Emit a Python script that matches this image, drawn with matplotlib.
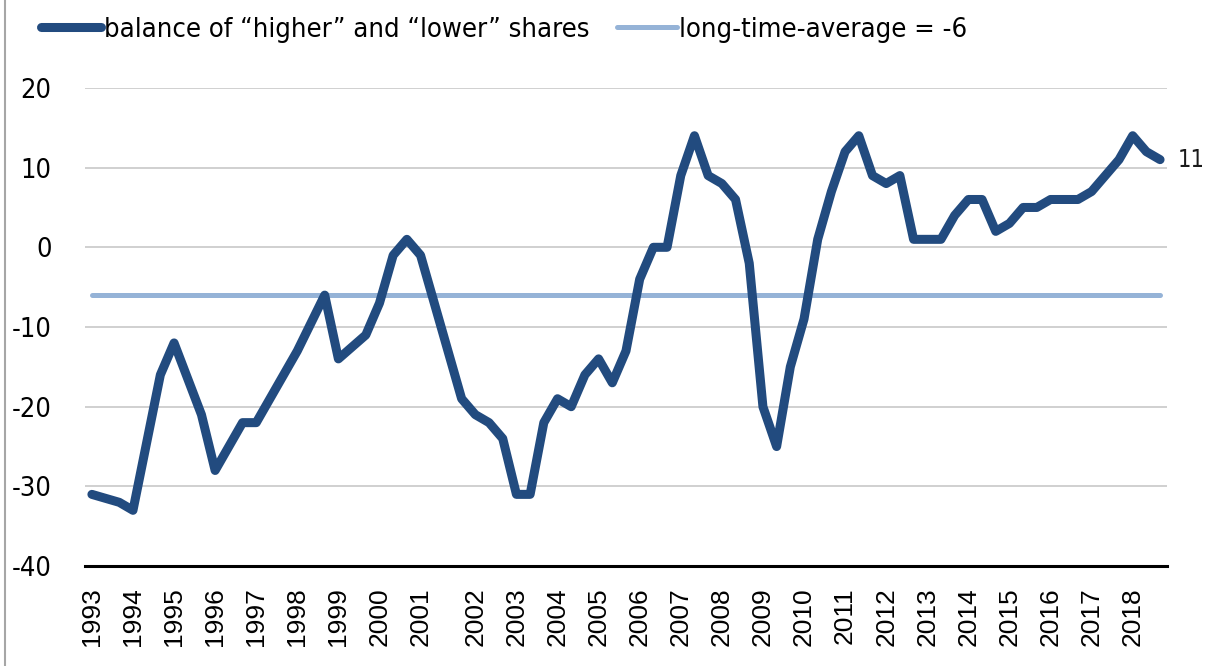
import numpy as np
import matplotlib
matplotlib.use('Agg')
import matplotlib.pyplot as plt
from matplotlib.lines import Line2D

plt.rcParams['axes.unicode_minus'] = False

# survey years and number of observations in each year
years = list(range(1993, 2019))
obs_per_year = [3] * 8 + [4] + [3] * 17

# balance of "higher" and "lower" shares
balance = [
    -31, -31.5, -32, -33, -24.5, -16, -12, -16.5, -21, -28,
    -25, -22, -22, -19, -16, -13, -9.5, -6, -14, -12.5,
    -11, -7, -1, 1, -1, -7, -13, -19, -21, -22,
    -24, -31, -31, -22, -19, -20, -16, -14, -17, -13,
    -4, 0, 0, 9, 14, 9, 8, 6, -2, -20,
    -25, -15, -9, 1, 7, 12, 14, 9, 8, 9,
    1, 1, 1, 4, 6, 6, 2, 3, 5, 5,
    6, 6, 6, 7, 9, 11, 14, 12, 11,
]
long_time_average = -6

# category labels: year shown on the first observation of each year
categories = []
for yr, n in zip(years, obs_per_year):
    categories += [str(yr)] + [''] * (n - 1)

dark_blue = '#224B7F'
light_blue = '#95B3D7'
text_font = {'family': 'DejaVu Sans', 'stretch': 'condensed'}

fig = plt.figure(figsize=(12.08, 6.66), dpi=100)
ax = fig.add_axes([0.0704, 0.150, 0.8956, 0.718])

x = np.arange(len(balance))
ax.plot(x, balance, color=dark_blue, lw=6.5, solid_capstyle='round',
        solid_joinstyle='round', zorder=3)
ax.plot(x, [long_time_average] * len(x), color=light_blue, lw=3.6,
        solid_capstyle='round', zorder=2)

ax.set_xlim(-0.5, len(x) - 0.5)
ax.set_ylim(-40, 20)
ax.set_yticks(np.arange(-40, 21, 10))
ax.grid(axis='y', color='#c8c8c8', lw=1.2)
ax.set_axisbelow(True)

for s in ['top', 'right', 'left']:
    ax.spines[s].set_visible(False)
ax.spines['bottom'].set_color('black')
ax.spines['bottom'].set_linewidth(2.2)
ax.spines['bottom'].set_zorder(4)

tick_pos = [i for i, c in enumerate(categories) if c]
ax.set_xticks(tick_pos)
ax.set_xticklabels([categories[i] for i in tick_pos], rotation=90,
                   fontsize=19, family='Liberation Sans', va='top')
ax.tick_params(axis='x', length=0, pad=15)
ax.tick_params(axis='y', length=0, pad=24, labelsize=19.5)
for lab in ax.get_yticklabels():
    lab.set_family(text_font['family'])
    lab.set_stretch(text_font['stretch'])

# last value label
ax.text(len(x) - 1 + 1.3, balance[-1], f'{balance[-1]:g}', fontsize=17,
        va='center', ha='left', color='#1a1a1a', **text_font)

handles = [Line2D([], [], color=dark_blue, lw=6.5, solid_capstyle='round'),
           Line2D([], [], color=light_blue, lw=3.6, solid_capstyle='round')]
labels = ['balance of \u201chigher\u201d and \u201clower\u201d shares',
          f'long-time-average = {long_time_average}']
fig.legend(handles, labels, loc='center left', bbox_to_anchor=(0.014, 0.955),
           ncol=2, frameon=False, handlelength=2.2, handletextpad=0.1,
           columnspacing=1.0, prop={'size': 19.6, **text_font})

# chart border on the left
fig.add_artist(Line2D([0.004, 0.004], [0, 1], color='#a6a6a6', lw=1.5,
                      transform=fig.transFigure))

fig.savefig('out.png', dpi=100)
